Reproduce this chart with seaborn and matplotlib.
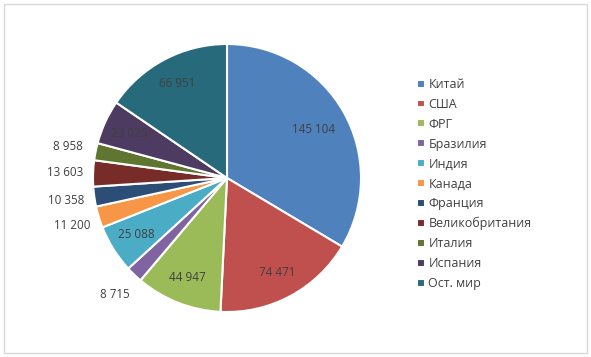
import matplotlib
matplotlib.use("Agg")
import matplotlib.pyplot as plt
import matplotlib.patches as mpatches
import numpy as np
import seaborn as sns

# ─────────────────────────────────────────
# DATA
# ─────────────────────────────────────────
countries = ["Китай", "США", "ФРГ", "Бразилия", "Индия", "Канада",
             "Франция", "Великобритания", "Италия", "Испания", "Ост. мир"]
values = [145104, 74471, 44947, 8715, 25088, 11200,
          10358, 13603, 8958, 23025, 66951]
colors = ["#4F81BD", "#C0504D", "#9BBB59", "#8064A2", "#4BACC6", "#F79646",
          "#2C4D75", "#772C2A", "#5F7530", "#4D3B62", "#276A7C"]

sns.set_theme(style="white")
plt.rcParams["font.family"] = ["Open Sans", "DejaVu Sans"]

W, H = 591, 357
fig = plt.figure(figsize=(W / 100, H / 100), dpi=100)

# chart frame
fig.patches.append(mpatches.Rectangle((4 / W, 4 / H), 583 / W, 349 / H,
                                      transform=fig.transFigure, fill=False,
                                      edgecolor="#d9d9d9", linewidth=1))

# pie area: center (227,178), radius 134 px
cx, cy, r = 227, 178, 134
ax = fig.add_axes([(cx - r) / W, (H - cy - r) / H, 2 * r / W, 2 * r / H])

wedges, _ = ax.pie(values, colors=colors, startangle=90, counterclock=False,
                   wedgeprops=dict(edgecolor="white", linewidth=1.5))
ax.set_xlim(-1, 1)
ax.set_ylim(-1, 1)
ax.set_aspect("equal")
ax.axis("off")

# value labels: small slices outside, big ones inside
total = sum(values)
for w, v in zip(wedges, values):
    mid = np.deg2rad((w.theta1 + w.theta2) / 2)
    dist = 1.21 if v / total < 0.04 else 0.8
    if v == max(values):
        dist = 0.74
    ax.text(dist * np.cos(mid), dist * np.sin(mid), f"{v:,}".replace(",", " "),
            ha="center", va="center", fontsize=8.4, color="#404040")

# legend
leg = fig.legend(wedges, countries, loc="upper left",
                 bbox_to_anchor=(412 / W, 1 - 73 / H), frameon=False,
                 fontsize=9, handlelength=0.6, handleheight=0.6,
                 handletextpad=0.3, labelspacing=0.55, borderaxespad=0)
for t in leg.get_texts():
    t.set_color("#404040")

plt.savefig("out.png", dpi=100)
